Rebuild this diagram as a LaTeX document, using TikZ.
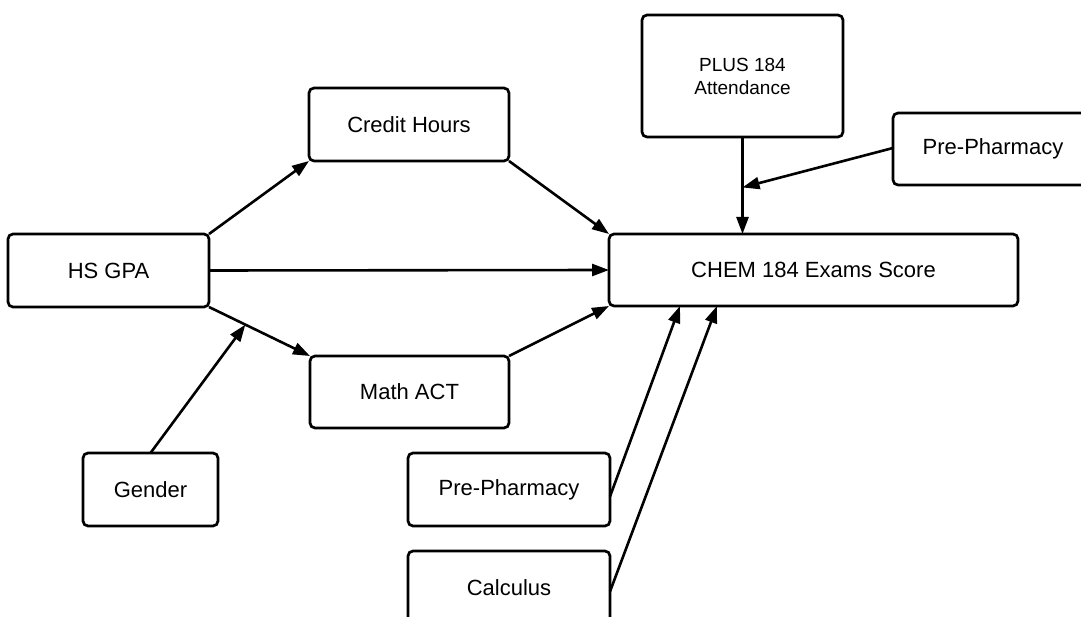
\documentclass[tikz,border=0pt]{standalone}
\usepackage{fontspec}
\setmainfont{Liberation Sans}
\usetikzlibrary{arrows.meta,calc}
\begin{document}
\begin{tikzpicture}[x=1pt,y=-1pt,
  box/.style={draw=black,line width=2.7pt,rounded corners=5pt,fill=white,
    inner sep=0pt,outer sep=0pt,font=\fontsize{22}{26}\selectfont},
  link/.style={line width=2.6pt,-{Triangle[length=17pt,width=12pt]}}]
\useasboundingbox (0,0) rectangle (1081,617);
\clip (0,0) rectangle (1081,617);
% variable boxes
\node[box,minimum width=201pt,minimum height=73pt] (hsgpa) at (108.5,270.5) {HS GPA};
\node[box,minimum width=135pt,minimum height=73pt] (gender) at (150.5,489.5) {Gender};
\node[box,minimum width=200pt,minimum height=73pt] (credit) at (409,124.5) {Credit Hours};
\node[box,minimum width=199pt,minimum height=72pt] (math) at (409.5,392) {Math ACT};
\node[box,minimum width=409pt,minimum height=72pt] (chem) at (813.5,270) {CHEM 184 Exams Score};
\node[box,minimum width=201pt,minimum height=122pt,align=center,
  font=\fontsize{19}{23}\selectfont] (plus) at (742.5,76) {PLUS 184\\Attendance};
\node[box,minimum width=200pt,minimum height=72pt] (prer) at (993,149) {Pre-Pharmacy};
\node[box,minimum width=202pt,minimum height=73pt] (preb) at (509,489.5) {Pre-Pharmacy};
\node[box,minimum width=202pt,minimum height=73pt] (calc) at (509,587.5) {Calculus};
% junction points on connectors
\coordinate (gj) at ($(hsgpa.south east)!0.36!(math.north west)$);
\coordinate (pin) at (plus.south |- chem.north);
\coordinate (pj) at ($(plus.south)!0.52!(pin)$);
% paths
\draw[link] (hsgpa.north east) -- (credit.south west);
\draw[link] (credit.south east) -- (chem.north west);
\draw[link] (hsgpa.east) -- (chem.west);
\draw[link] (hsgpa.south east) -- (math.north west);
\draw[link] (gender.north) -- (gj);
\draw[link] (math.north east) -- (chem.south west);
\draw[link] (plus.south) -- (pin);
\draw[link] ([yshift=1pt]prer.west) -- (pj);
\draw[link] ([yshift=-7pt]preb.east) -- ([xshift=71pt]chem.south west);
\draw[link] ([yshift=-4pt]calc.east) -- ([xshift=108pt]chem.south west);
\end{tikzpicture}
\end{document}
